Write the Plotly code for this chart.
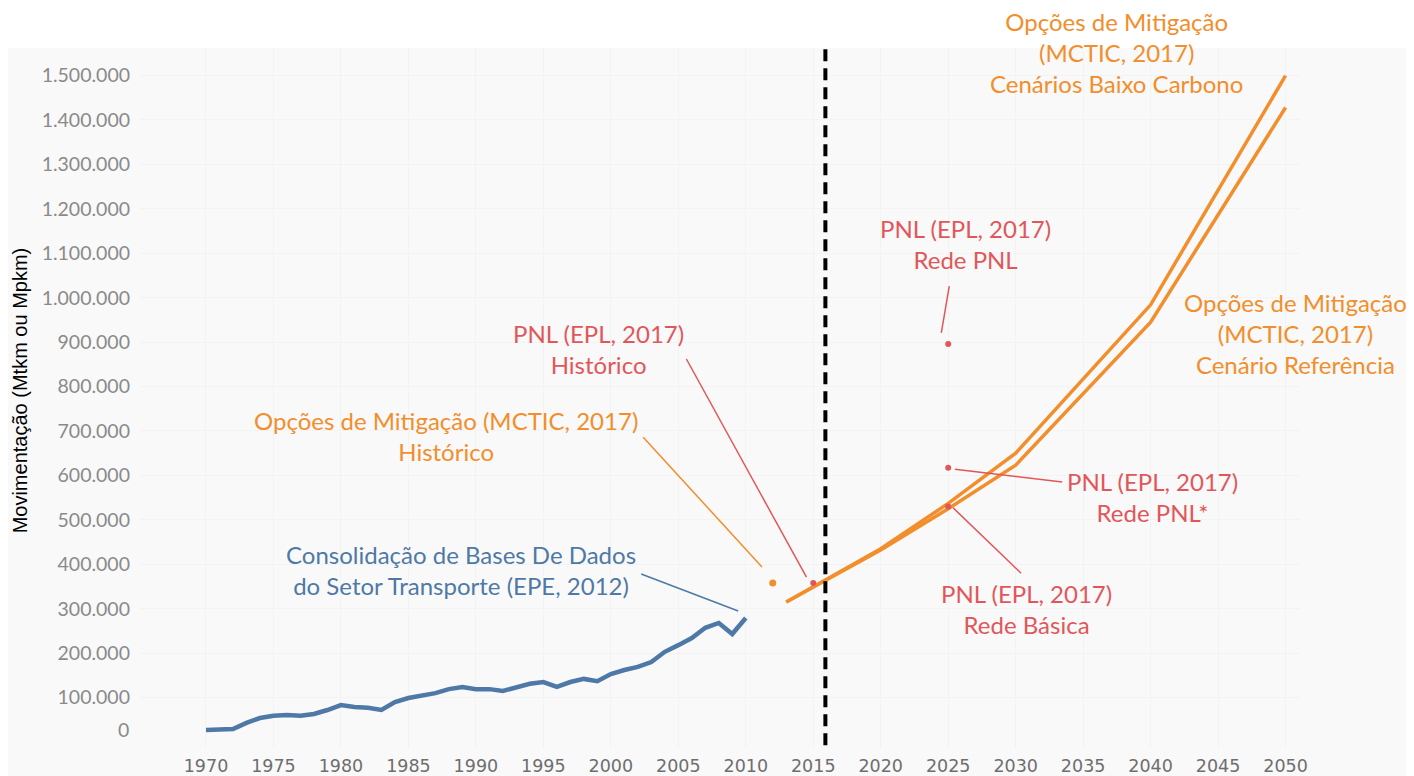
import plotly.graph_objects as go

# ---------------- data ----------------
hist_years = list(range(1970, 2011))
hist_values = [27000, 28000, 29000, 43000, 54000, 59000, 61000, 59000, 63000, 72000,
               83000, 79000, 77000, 72000, 90000, 99000, 104000, 110000, 119000, 124000,
               119000, 119000, 115000, 124000, 131000, 135000, 124000, 135000, 142000, 137000,
               153000, 162000, 169000, 180000, 203000, 218000, 234000, 257000, 268000, 243000,
               279000]

proj_years = [2013, 2020, 2025, 2030, 2040, 2050]
baixo_carbono = [315000, 435000, 537000, 650000, 984000, 1500000]
referencia = [315000, 432000, 525000, 623000, 945000, 1428000]

mctic_hist_year = [2012]
mctic_hist_value = [358000]

pnl_hist_year = [2015]
pnl_hist_value = [358000]

pnl_2025_years = [2025, 2025, 2025]
pnl_2025_values = [896000, 617000, 530000]   # Rede PNL, Rede PNL*, Rede Básica

cut_year = 2015.9

x_ticks = list(range(1970, 2051, 5))
y_ticks = list(range(100000, 1500001, 100000))
y_ticktext = [f"{v:,}".replace(",", ".") for v in y_ticks]

BLUE = "#4e79a7"
ORANGE = "#f28e2b"
RED = "#e15759"
TXT_FONT = "Lato"

fig = go.Figure()

fig.add_trace(go.Scatter(x=hist_years, y=hist_values, mode="lines",
                         line=dict(color=BLUE, width=4.5), showlegend=False))
fig.add_trace(go.Scatter(x=proj_years, y=referencia, mode="lines",
                         line=dict(color=ORANGE, width=3.5), showlegend=False))
fig.add_trace(go.Scatter(x=proj_years, y=baixo_carbono, mode="lines",
                         line=dict(color=ORANGE, width=3.5), showlegend=False))
fig.add_trace(go.Scatter(x=mctic_hist_year, y=mctic_hist_value, mode="markers",
                         marker=dict(color=ORANGE, size=7), showlegend=False))
fig.add_trace(go.Scatter(x=pnl_hist_year + pnl_2025_years,
                         y=pnl_hist_value + pnl_2025_values, mode="markers",
                         marker=dict(color=RED, size=6), showlegend=False))

# connector lines (annotation leaders)
leaders = [
    (BLUE, 2002.25, 378000, 2009.44, 295000),
    (ORANGE, 2002.4, 686000, 2011.2, 394000),
    (RED, 2005.6, 862000, 2014.5, 371000),
    (RED, 2025.08, 1026000, 2024.49, 921000),
    (RED, 2025.5, 614000, 2033.45, 585000),
    (RED, 2025.37, 527000, 2030.4, 380000),
]
shapes = []
for c, x0, y0, x1, y1 in leaders:
    shapes.append(dict(type="line", xref="x", yref="y", x0=x0, y0=y0, x1=x1, y1=y1,
                       line=dict(color=c, width=1.5)))

# white band above the grey panel
shapes.append(dict(type="rect", xref="paper", yref="paper", x0=-0.2, x1=1.2,
                   y0=1.0, y1=1.2, fillcolor="white", line=dict(width=0), layer="below"))
# dashed separator
shapes.append(dict(type="line", xref="x", yref="paper", x0=cut_year, x1=cut_year,
                   y0=0.004, y1=1.007, line=dict(color="black", width=4, dash="12px,7px")))

labels = [
    ("Opções de Mitigação<br>(MCTIC, 2017)<br>Cenários Baixo Carbono", ORANGE, 2037.46, 1552000),
    ("PNL (EPL, 2017)<br>Rede PNL", RED, 2026.26, 1120000),
    ("Opções de Mitigação<br>(MCTIC, 2017)<br>Cenário Referência", ORANGE, 2050.7, 920000),
    ("PNL (EPL, 2017)<br>Histórico", RED, 1999.06, 884000),
    ("Opções de Mitigação (MCTIC, 2017)<br>Histórico", ORANGE, 1987.79, 688000),
    ("Consolidação de Bases De Dados<br>do Setor Transporte (EPE, 2012)", BLUE, 1988.9, 387000),
    ("PNL (EPL, 2017)<br>Rede PNL*", RED, 2040.13, 552000),
    ("PNL (EPL, 2017)<br>Rede Básica", RED, 2030.79, 300000),
]
annotations = []
for t, c, x, y in labels:
    annotations.append(dict(text=t, x=x, y=y, xref="x", yref="y", showarrow=False,
                            xanchor="center", yanchor="middle", align="center",
                            borderpad=0,
                            font=dict(family=TXT_FONT, size=24, color=c)))

annotations.append(dict(text="Movimentação (Mtkm ou Mpkm)", xref="paper", yref="paper",
                        x=-0.1034, y=0.511, textangle=-90, showarrow=False,
                        xanchor="center", yanchor="middle",
                        font=dict(family="Liberation Sans", size=20, color="black")))
annotations.append(dict(text="0", xref="paper", yref="y", x=-0.0078, y=29000,
                        xanchor="right", yanchor="middle", showarrow=False,
                        font=dict(family="Lato", size=19.5, color="#8a8a8a")))

fig.update_layout(
    width=1414, height=776,
    margin=dict(l=132, r=122, t=40, b=36, autoexpand=False),
    paper_bgcolor="#f9f9f9", plot_bgcolor="#f9f9f9",
    shapes=shapes, annotations=annotations, showlegend=False,
    xaxis=dict(range=[1965.11, 2051.07], tickvals=x_ticks, showgrid=True,
               gridcolor="#f3f3f3", zeroline=False, showline=False, ticks="",
               ticklabelstandoff=5, automargin=False,
               tickfont=dict(family="DejaVu Sans", size=17.5, color="#6e6e6e")),
    yaxis=dict(range=[-13500, 1562000], tickvals=y_ticks, ticktext=y_ticktext,
               showgrid=True, gridcolor="#f3f3f3", zeroline=False, showline=False,
               ticks="", ticklabelstandoff=9, automargin=False,
               tickfont=dict(family="Lato", size=19.5, color="#8a8a8a")),
)

fig.write_html("out.html")
